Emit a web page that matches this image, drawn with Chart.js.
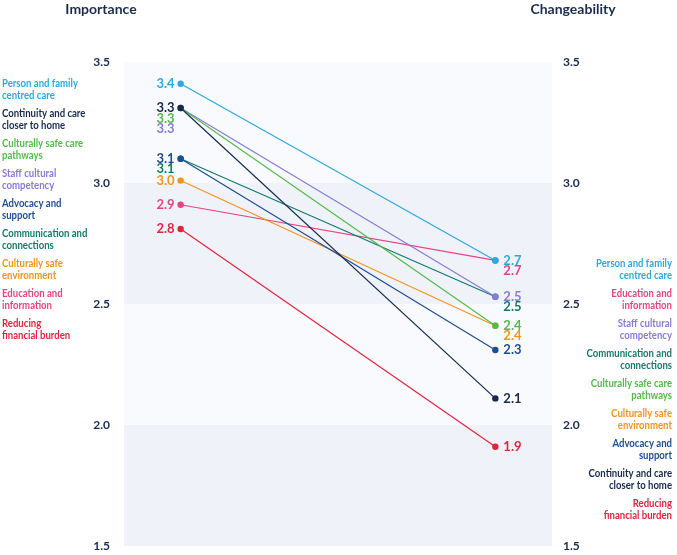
<!DOCTYPE html>
<html>
<head>
<meta charset="utf-8">
<script src="https://cdn.jsdelivr.net/npm/chart.js@4.4.1/dist/chart.umd.min.js"></script>
<style>
  html, body { margin: 0; padding: 0; background: #fff; }
  #wrap { width: 677px; height: 555px; }
</style>
</head>
<body>
<div id="wrap"><canvas id="slope"></canvas></div>
<script>
// categories (two lines each, as printed)
const categories = [
  ['Person and family', 'centred care'],
  ['Continuity and care', 'closer to home'],
  ['Culturally safe care', 'pathways'],
  ['Staff cultural', 'competency'],
  ['Advocacy and', 'support'],
  ['Communication and', 'connections'],
  ['Culturally safe', 'environment'],
  ['Education and', 'information'],
  ['Reducing', 'financial burden']
]
const importance    = [3.41, 3.31, 3.31, 3.31, 3.10, 3.10, 3.01, 2.91, 2.81]
const changeability = [2.68, 2.11, 2.41, 2.53, 2.31, 2.53, 2.41, 2.68, 1.91]
const columnTitles = ['Importance', 'Changeability']
const yTicks = [1.5, 2.0, 2.5, 3.0, 3.5]

const colours = ['#2ea8e0', '#14294d', '#52bb4c', '#8a7ad8', '#1e4d94', '#137a6c', '#f5921e', '#e4457f', '#e2243f']
const navy = '#1b2b4d'
const FONT = 'Lato, "Open Sans", sans-serif'

const datasets = categories.map((c, i) => ({
  label: c.join(' '),
  data: [{x: 0, y: importance[i]}, {x: 1, y: changeability[i]}],
  borderColor: colours[i],
  backgroundColor: colours[i],
  borderWidth: 1.2,
  pointRadius: 3.2,
  pointBorderWidth: 0,
  pointHoverRadius: 3.2,
  clip: false
}))

// background bands between ticks
const bands = {
  id: 'bands',
  beforeDraw(chart) {
    const {ctx, chartArea} = chart
    const y = chart.scales.y
    for (let k = 0; k < yTicks.length - 1; k++) {
      const top = y.getPixelForValue(yTicks[k + 1])
      const bot = y.getPixelForValue(yTicks[k])
      ctx.fillStyle = k % 2 === 0 ? '#eff3f9' : '#f9fafd'
      ctx.fillRect(chartArea.left, top, chartArea.right - chartArea.left, bot - top)
    }
  }
}

// value labels, category lists and column titles
const labels = {
  id: 'labels',
  afterDatasetsDraw(chart) {
    const {ctx} = chart
    ctx.save()
    ctx.textBaseline = 'middle'
    ctx.font = 'bold 13px ' + FONT
    ;[importance, changeability].forEach((vals, side) => {
      vals.forEach((v, i) => {
        const pt = chart.getDatasetMeta(i).data[side]
        let stack = 0
        for (let j = 0; j < i; j++) if (vals[j].toFixed(1) === v.toFixed(1)) stack++
        ctx.fillStyle = colours[i]
        ctx.textAlign = side === 0 ? 'right' : 'left'
        ctx.fillText(v.toFixed(1), pt.x + (side === 0 ? -6 : 8), pt.y + stack * 10.5)
      })
    })

    // lists (narrowed a little, the original face is condensed)
    const sx = 0.87
    ctx.font = 'bold 11px ' + FONT
    const rightOrder = categories.map((c, i) => i).sort((a, b) => changeability[b] - changeability[a])
    const lists = [
      {order: categories.map((c, i) => i), x: 2, y: 83, align: 'left'},
      {order: rightOrder, x: 672, y: 263, align: 'right'}
    ]
    lists.forEach(l => {
      ctx.textAlign = l.align
      l.order.forEach((idx, n) => {
        ctx.fillStyle = colours[idx]
        categories[idx].forEach((line, m) => {
          ctx.save()
          ctx.translate(l.x, l.y + n * 30 + m * 12.5)
          ctx.scale(sx, 1)
          ctx.fillText(line, 0, 0)
          ctx.restore()
        })
      })
    })

    // titles
    ctx.fillStyle = navy
    ctx.font = 'bold 14px ' + FONT
    ctx.textAlign = 'center'
    ctx.fillText(columnTitles[0], 101, 9)
    ctx.fillText(columnTitles[1], 573, 9)
    ctx.restore()
  }
}

const tickOpts = {
  color: navy,
  font: {family: FONT, size: 12, weight: 'bold'},
  callback: v => Number(v).toFixed(1)
}

const fitAxis = w => s => { s.width = w; s.paddingTop = 0; s.paddingBottom = 0 }

new Chart(document.getElementById('slope'), {
  type: 'line',
  data: {datasets},
  options: {
    responsive: true,
    maintainAspectRatio: false,
    animation: false,
    layout: {padding: {top: 62, bottom: 9, left: 0, right: 0}},
    plugins: {legend: {display: false}, tooltip: {enabled: false}},
    scales: {
      x: {type: 'linear', min: -0.18, max: 1.18, display: false},
      y: {
        position: 'left', min: 1.5, max: 3.5,
        afterBuildTicks: s => { s.ticks = yTicks.map(v => ({value: v})) },
        afterFit: fitAxis(124),
        grid: {display: false, drawTicks: false},
        border: {display: false},
        ticks: {...tickOpts, padding: 14}
      },
      y2: {
        position: 'right', min: 1.5, max: 3.5,
        afterBuildTicks: s => { s.ticks = yTicks.map(v => ({value: v})) },
        afterFit: fitAxis(125),
        grid: {display: false, drawTicks: false},
        border: {display: false},
        ticks: {...tickOpts, padding: 11}
      }
    }
  },
  plugins: [bands, labels]
})
</script>
</body>
</html>
